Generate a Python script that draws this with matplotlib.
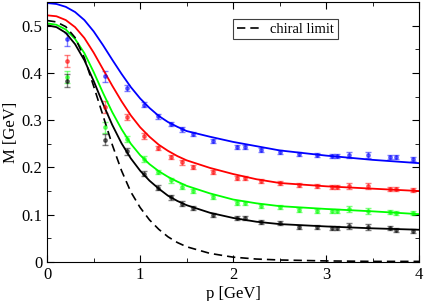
import numpy as np
import matplotlib
matplotlib.use("Agg")
import matplotlib.pyplot as plt
from matplotlib.ticker import MultipleLocator

plt.rcParams['font.family'] = ['Liberation Serif', 'DejaVu Serif']

# lattice momenta of the data points
p_lat = [0.21, 0.62, 0.86, 1.04, 1.19, 1.33, 1.45, 1.57, 1.78, 2.04, 2.13,
         2.30, 2.50, 2.71, 2.90, 3.06, 3.12, 3.25, 3.45, 3.69, 3.75, 3.94]

m_blue = [0.471, 0.393, 0.368, 0.333, 0.308, 0.292, 0.281, 0.271, 0.256, 0.243, 0.243,
          0.237, 0.233, 0.228, 0.226, 0.224, 0.224, 0.226, 0.226, 0.222, 0.222, 0.218]
m_red = [0.425, 0.328, 0.307, 0.266, 0.241, 0.222, 0.211, 0.201, 0.190, 0.178, 0.178,
         0.171, 0.167, 0.163, 0.161, 0.159, 0.159, 0.161, 0.161, 0.154, 0.154, 0.152]
m_green = [0.391, 0.285, 0.260, 0.218, 0.190, 0.173, 0.159, 0.150, 0.137, 0.125, 0.125,
           0.118, 0.116, 0.110, 0.108, 0.108, 0.108, 0.112, 0.108, 0.106, 0.104, 0.104]
m_black = [0.384, 0.259, 0.234, 0.187, 0.157, 0.137, 0.123, 0.114, 0.099, 0.093, 0.093,
           0.085, 0.082, 0.074, 0.074, 0.072, 0.072, 0.076, 0.074, 0.072, 0.068, 0.066]

err = [0.013, 0.012, 0.007, 0.006, 0.005, 0.005, 0.005, 0.005, 0.004, 0.004, 0.004,
       0.004, 0.004, 0.004, 0.004, 0.004, 0.004, 0.006, 0.006, 0.004, 0.004, 0.004]

# fit curves
p_fit = [0, 0.1, 0.2, 0.3, 0.4, 0.5, 0.6, 0.7, 0.8, 0.9, 1.0, 1.1, 1.2, 1.3, 1.4, 1.5,
         1.75, 2.0, 2.25, 2.5, 3.0, 3.5, 4.0]
fit_blue = [0.548, 0.546, 0.540, 0.529, 0.512, 0.488, 0.459, 0.428, 0.398, 0.370, 0.346,
            0.326, 0.309, 0.296, 0.286, 0.277, 0.265, 0.254, 0.245, 0.236, 0.225, 0.216, 0.209]
fit_red = [0.522, 0.520, 0.512, 0.497, 0.474, 0.443, 0.408, 0.373, 0.340, 0.310, 0.285,
           0.265, 0.248, 0.235, 0.224, 0.215, 0.199, 0.186, 0.175, 0.167, 0.160, 0.155, 0.150]
fit_green = [0.505, 0.502, 0.492, 0.472, 0.442, 0.402, 0.358, 0.317, 0.281, 0.250, 0.226,
             0.207, 0.192, 0.180, 0.170, 0.161, 0.145, 0.132, 0.124, 0.118, 0.112, 0.107, 0.101]
fit_black = [0.501, 0.497, 0.485, 0.461, 0.427, 0.383, 0.335, 0.290, 0.251, 0.219, 0.193,
             0.172, 0.155, 0.140, 0.129, 0.120, 0.104, 0.093, 0.085, 0.080, 0.075, 0.071, 0.068]
fit_chiral = [0.511, 0.508, 0.498, 0.475, 0.432, 0.372, 0.310, 0.248, 0.193, 0.148, 0.115,
              0.089, 0.069, 0.053, 0.041, 0.032, 0.018, 0.010, 0.006, 0.004, 0.002, 0.001, 0.001]

fig = plt.figure(figsize=(4.25, 3.01), dpi=100)
ax = fig.add_axes([0.111, 0.130, 0.875, 0.863])

series = [(m_blue, fit_blue, '#0000ff'), (m_red, fit_red, '#ff0000'),
          (m_green, fit_green, '#00ff00'), (m_black, fit_black, '#000000')]
for m, fit, c in series:
    ax.errorbar(p_lat, m, yerr=err, fmt='o', ms=2.5, color=c, alpha=0.5,
                elinewidth=1, capsize=2.5, capthick=1)
    ax.plot(p_fit, fit, color=c, lw=1.3)

ax.plot(p_fit, fit_chiral, color='black', lw=1.2, ls=(0, (5, 3)), label='chiral limit')

ax.set_xlim(0, 4)
ax.set_ylim(0, 0.55)
ax.xaxis.set_major_locator(MultipleLocator(1))
ax.xaxis.set_minor_locator(MultipleLocator(0.5))
ax.yaxis.set_major_locator(MultipleLocator(0.1))
ax.yaxis.set_minor_locator(MultipleLocator(0.05))
ax.set_yticks([0, 0.1, 0.2, 0.3, 0.4, 0.5])
ax.set_yticklabels(['0', '0.1', '0.2', '0.3', '0.4', '0.5'])
ax.tick_params(which='both', direction='in', top=True, right=True, labelsize=12)
ax.tick_params(which='major', length=5)
ax.tick_params(which='minor', length=3)
ax.set_xlabel('p [GeV]', fontsize=12, labelpad=2)
ax.set_ylabel('M [GeV]', fontsize=12, labelpad=2)

leg = ax.legend(loc='upper left', bbox_to_anchor=(0.50, 0.935), fontsize=10.5,
                handlelength=1.8, handletextpad=0.5, fancybox=False,
                edgecolor='#404040', framealpha=1, borderpad=0.25, borderaxespad=0)
leg.get_frame().set_linewidth(0.8)

fig.savefig('out.png', dpi=100)
